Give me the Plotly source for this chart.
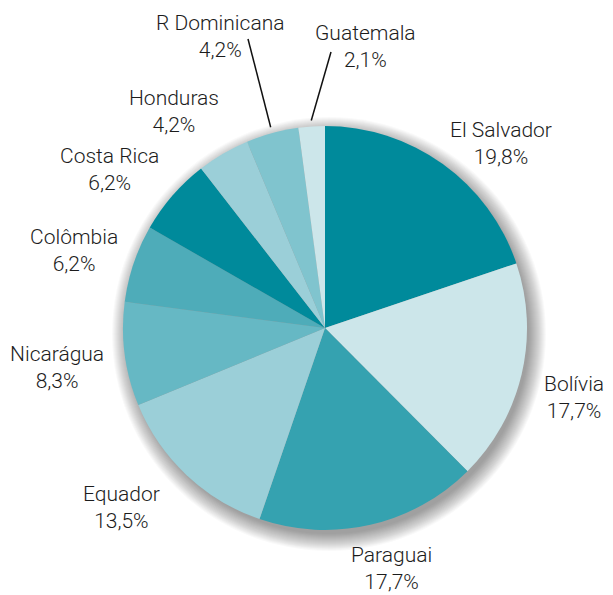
import math
import plotly.graph_objects as go

# data
countries = ['El Salvador', 'Bolívia', 'Paraguai', 'Equador', 'Nicarágua',
             'Colômbia', 'Costa Rica', 'Honduras', 'R Dominicana', 'Guatemala']
shares = [19.8, 17.7, 17.7, 13.5, 8.3, 6.2, 6.2, 4.2, 4.2, 2.1]
colors = ['#008a9b', '#cce6ea', '#35a2b0', '#9bcfd8', '#66b8c4',
          '#4eacb9', '#008a9b', '#9bcfd8', '#80c4ce', '#cce6ea']

# the page body has an 8px margin, so work in a slightly smaller figure
OFF = 8
W, H = 613 - OFF, 595 - OFF
cx, cy, r = 325, 328, 202

def px(x, y):
    # window pixel -> paper coordinates
    return (x - OFF) / W, 1 - (y - OFF) / H

# label centres (pixels) for the outside text
label_pos = {
    'El Salvador': (501, 143), 'Bolívia': (574, 397), 'Paraguai': (391, 568),
    'Equador': (121, 507), 'Nicarágua': (57, 367), 'Colômbia': (74, 250),
    'Costa Rica': (109, 169), 'Honduras': (174, 111), 'R Dominicana': (220, 36),
    'Guatemala': (365, 46),
}
# outer end of the leader lines
leader_end = {'R Dominicana': (248, 39), 'Guatemala': (331, 52)}

fig = go.Figure()

x0, y1 = px(cx - r, cy - r)
x1, y0 = px(cx + r, cy + r)
fig.add_trace(go.Pie(
    labels=countries, values=shares, sort=False, direction='clockwise', rotation=0,
    marker=dict(colors=colors, line=dict(width=0)),
    textinfo='none', hoverinfo='label+percent', showlegend=False,
    domain=dict(x=[x0, x1], y=[y0, y1]),
))

# soft drop shadow
shapes = []
for k in range(-2, 16):
    rr = r + k
    sx0, sy1 = px(cx + 4 - rr, cy + 6 - rr)
    sx1, sy0 = px(cx + 4 + rr, cy + 6 + rr)
    shapes.append(dict(type='circle', xref='paper', yref='paper', layer='below',
                       x0=sx0, x1=sx1, y0=sy0, y1=sy1,
                       fillcolor='rgba(0,0,0,0.024)', line=dict(width=0)))

# leader lines from the slice mid-angle
total = sum(shares)
cum = 0
mids = {}
for c, v in zip(countries, shares):
    mids[c] = (cum + v / 2) / total * 360
    cum += v
for c, (ex, ey) in leader_end.items():
    a = math.radians(mids[c])
    sx, sy = cx + (r + 6) * math.sin(a), cy - (r + 6) * math.cos(a)
    lx0, ly0 = px(sx, sy)
    lx1, ly1 = px(ex, ey)
    shapes.append(dict(type='line', xref='paper', yref='paper', layer='above',
                       x0=lx0, y0=ly0, x1=lx1, y1=ly1,
                       line=dict(color='#111111', width=1.5)))

annotations = []
for c, v in zip(countries, shares):
    lx, ly = px(*label_pos[c])
    annotations.append(dict(
        x=lx, y=ly, xref='paper', yref='paper', showarrow=False,
        xanchor='center', yanchor='middle', align='center',
        text=f"{c}<br>{str(v).replace('.', ',')}%",
        font=dict(family='Roboto', size=21, color='#1c1c1c', weight=300),
    ))

fig.update_layout(
    width=W, height=H, margin=dict(l=0, r=0, t=0, b=0),
    paper_bgcolor='white', plot_bgcolor='white',
    shapes=shapes, annotations=annotations,
)

fig.write_html("out.html")
